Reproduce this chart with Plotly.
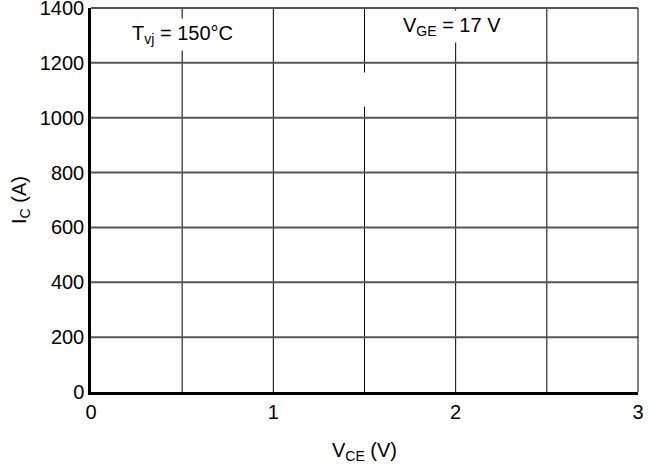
import plotly.graph_objects as go

x_range = [0, 3]
y_range = [0, 1400]
x_ticks = [0, 1, 2, 3]
y_ticks = [0, 200, 400, 600, 800, 1000, 1200, 1400]
x_grid = [0.5, 1.0, 1.5, 2.0, 2.5]
y_grid = [200, 400, 600, 800, 1000, 1200]
x_title = "V<sub>CE</sub> (V)"
y_title = "I<sub>C</sub> (A)"
label_tvj = "T<sub>vj</sub> = 150°C"
label_vge = "V<sub>GE</sub> = 17 V"

font = dict(family="Liberation Sans, Arial, sans-serif", size=20, color="black")

fig = go.Figure()
fig.add_trace(go.Scatter(x=x_range, y=y_range, mode="markers",
                         marker=dict(opacity=0), hoverinfo="skip", showlegend=False))

# vertical grid lines (every 0.5 V)
for xv in x_grid:
    fig.add_shape(type="line", xref="x", yref="y", x0=xv, x1=xv, y0=0, y1=1400,
                  line=dict(color="black", width=1), layer="below")
# horizontal grid lines
for yv in y_grid:
    fig.add_shape(type="line", xref="x", yref="y", x0=0, x1=3, y0=yv, y1=yv,
                  line=dict(color="#555555", width=2), layer="below")
# frame: top (grey) and right (black)
fig.add_shape(type="line", xref="paper", yref="paper", x0=0, x1=1, y0=1, y1=1,
              line=dict(color="#555555", width=2), layer="above")
fig.add_shape(type="line", xref="paper", yref="paper", x0=1, x1=1, y0=0, y1=1,
              line=dict(color="black", width=1), layer="above")

# blank white patch on the 1.5 V line
fig.add_shape(type="rect", xref="x", yref="y", x0=1.47, x1=1.53, y0=1040, y1=1165,
              fillcolor="white", line=dict(width=0), layer="above")

fig.add_annotation(x=0.5, y=1303, xref="x", yref="y", text=label_tvj, showarrow=False,
                   font=font, bgcolor="white", borderpad=3)
fig.add_annotation(x=1.98, y=1333, xref="x", yref="y", text=label_vge, showarrow=False,
                   font=font, bgcolor="white", borderpad=3)

fig.update_xaxes(range=x_range, tickvals=x_ticks, ticktext=[str(t) for t in x_ticks],
                 showgrid=False, zeroline=False, showline=True, linecolor="black",
                 linewidth=2.5, ticks="", tickfont=font, ticklabeloverflow="allow",
                 automargin=False,
                 title=dict(text=x_title, font=font, standoff=22))
fig.update_yaxes(range=y_range, tickvals=y_ticks, ticktext=[str(t) for t in y_ticks],
                 showgrid=False, zeroline=False, showline=True, linecolor="black",
                 linewidth=2.5, ticks="", tickfont=font, ticklabeloverflow="allow",
                 automargin=False,
                 title=dict(text=y_title, font=font, standoff=8))

fig.update_layout(width=655, height=467, margin=dict(l=91, r=17, t=8, b=75),
                  plot_bgcolor="white", paper_bgcolor="white", font=font,
                  showlegend=False)

fig.write_html("out.html", config={"displayModeBar": False},
               post_script="document.body.style.margin='0';")
